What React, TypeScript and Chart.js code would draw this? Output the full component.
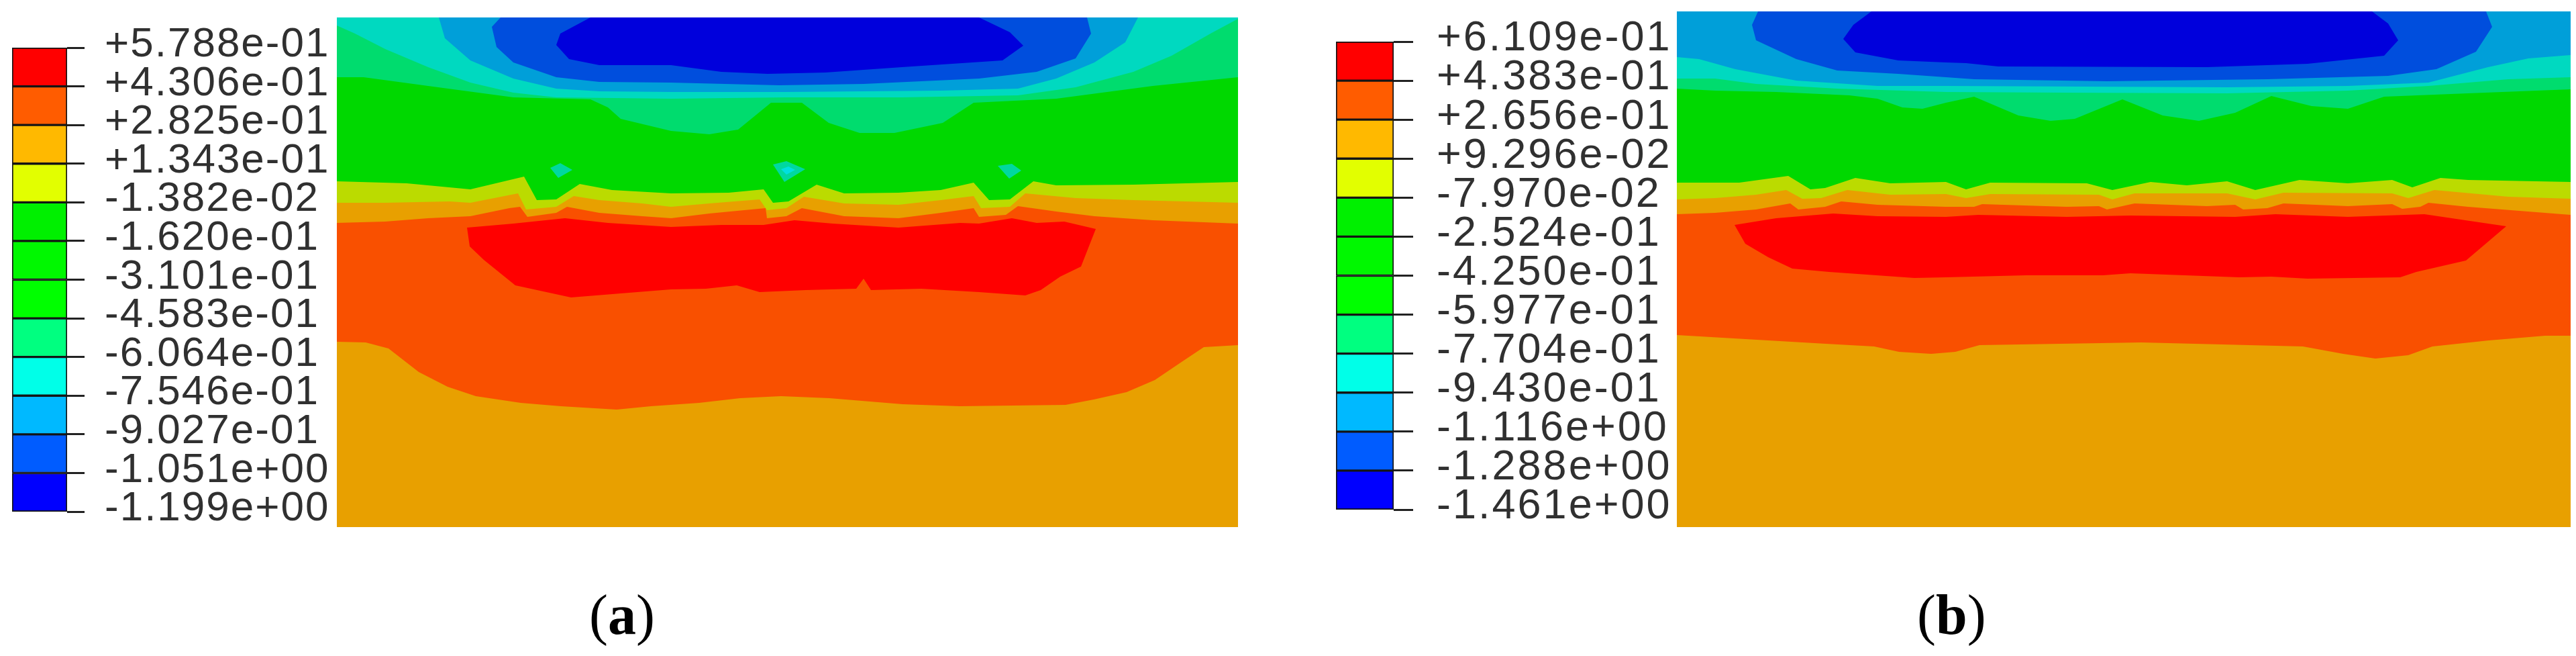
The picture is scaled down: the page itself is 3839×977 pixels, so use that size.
import React, { useEffect, useRef } from "react";
import { Chart, registerables } from "chart.js";

Chart.register(...registerables);

type P = [number, number];

// ---- legend levels and tick labels ----
const levelsA = [0.5788, 0.4306, 0.2825, 0.1343, -0.01382, -0.162, -0.3101, -0.4583, -0.6064, -0.7546, -0.9027, -1.051, -1.199];
const labelsA = ["+5.788e-01", "+4.306e-01", "+2.825e-01", "+1.343e-01", "-1.382e-02", "-1.620e-01", "-3.101e-01", "-4.583e-01", "-6.064e-01", "-7.546e-01", "-9.027e-01", "-1.051e+00", "-1.199e+00"];
const levelsB = [0.6109, 0.4383, 0.2656, 0.09296, -0.0797, -0.2524, -0.425, -0.5977, -0.7704, -0.943, -1.116, -1.288, -1.461];
const labelsB = ["+6.109e-01", "+4.383e-01", "+2.656e-01", "+9.296e-02", "-7.970e-02", "-2.524e-01", "-4.250e-01", "-5.977e-01", "-7.704e-01", "-9.430e-01", "-1.116e+00", "-1.288e+00", "-1.461e+00"];
const legendColors = ["#ff0000", "#ff5c00", "#ffb900", "#e2ff00", "#00f000", "#00f800", "#00ff00", "#00ff80", "#00ffe8", "#00b9ff", "#005cff", "#0000ff"];

// ---- contour colours ----
const cGold = "#e8a000";
const cOrange = "#f95000";
const cRed = "#ff0000";
const cYellow = "#bbdb00";
const cGreen = "#00d800";
const cSpring = "#00dc6e";
const cCyan = "#00d9c0";
const cSky = "#009fd9";
const cBlue = "#004edd";
const cDeep = "#0000dc";

// ---- panel (a) contour boundaries ----
const boundsA = { xMin: 502, xMax: 1845, yTop: 26, yBottom: 785 };
const aGoldLow: P[] = [[502,509],[545,510],[579,519],[624,554],[667,576],[709,590],[776,600],[836,605],[919,610],[970,605],[1042,600],[1103,593],[1164,590],[1236,593],[1345,602],[1430,605],[1588,603],[1630,595],[1679,584],[1721,566],[1758,541],[1794,517],[1845,514]];
const aRed: P[] = [[696,339],[765,333],[842,325],[906,332],[1000,338],[1075,335],[1138,335],[1184,328],[1241,333],[1339,339],[1431,332],[1459,333],[1508,325],[1545,332],[1586,330],[1633,341],[1611,397],[1580,412],[1551,432],[1528,440],[1459,435],[1373,430],[1298,432],[1287,415],[1276,430],[1201,432],[1132,435],[1098,425],[1052,430],[1000,431],[925,437],[851,443],[768,425],[721,387],[700,367]];
const aGoldBand: P[] = [[502,332],[574,330],[638,325],[701,322],[759,310],[775,308],[786,323],[829,317],[845,308],[893,317],[957,322],[1000,325],[1057,318],[1109,313],[1141,310],[1143,325],[1172,322],[1195,310],[1258,322],[1339,325],[1402,317],[1451,310],[1459,323],[1499,320],[1517,307],[1574,315],[1631,322],[1718,328],[1845,333]];
const aYellow: P[] = [[502,302],[574,302],[670,300],[701,302],[772,288],[784,312],[829,308],[855,292],[893,298],[957,303],[1000,308],[1057,303],[1132,297],[1143,313],[1172,310],[1198,293],[1258,303],[1339,305],[1402,298],[1451,292],[1462,310],[1505,308],[1528,288],[1603,295],[1689,298],[1845,302]];
const aGreen: P[] = [[502,270],[606,273],[701,282],[781,263],[800,298],[829,297],[864,274],[912,283],[1000,288],[1086,287],[1138,282],[1152,302],[1175,300],[1217,275],[1258,288],[1339,287],[1402,283],[1451,272],[1474,298],[1505,297],[1540,270],[1574,276],[1689,275],[1845,271]];
const aSpring: P[] = [[502,115],[542,115],[638,128],[765,145],[880,148],[906,160],[925,177],[1000,195],[1057,200],[1100,193],[1149,153],[1195,153],[1235,183],[1281,198],[1333,198],[1405,183],[1451,153],[1574,147],[1718,128],[1845,115]];
const aCyan: P[] = [[502,38],[529,50],[574,73],[638,100],[701,123],[765,138],[829,145],[1000,147],[1172,145],[1344,145],[1517,142],[1603,130],[1689,107],[1746,83],[1804,50],[1845,28]];
const aSky: P[] = [[654,26],[663,57],[701,90],[765,117],[829,132],[893,136],[1000,137],[1172,137],[1402,135],[1517,132],[1574,117],[1631,93],[1677,63],[1696,26]];
const aBlue: P[] = [[746,26],[733,40],[740,70],[765,93],[829,115],[893,122],[1000,123],[1161,127],[1287,125],[1459,117],[1545,107],[1603,87],[1626,50],[1620,26]];
const aDeep: P[] = [[880,26],[835,50],[829,67],[848,88],[893,97],[1000,97],[1075,107],[1144,110],[1230,108],[1344,100],[1494,90],[1525,68],[1505,48],[1459,26]];
const aSpotLeft: P[] = [[820,250],[835,243],[853,253],[832,265]];
const aSpotMid: P[] = [[1152,245],[1172,240],[1200,252],[1169,271]];
const aSpotMidCore: P[] = [[1164,252],[1175,248],[1185,253],[1172,260]];
const aSpotRight: P[] = [[1487,247],[1508,244],[1522,254],[1504,266]];

// ---- panel (b) contour boundaries ----
const boundsB = { xMin: 2499, xMax: 3831, yTop: 17, yBottom: 785 };
const bGoldLow: P[] = [[2499,499],[2601,505],[2721,512],[2793,516],[2830,524],[2878,527],[2914,524],[2950,514],[3191,510],[3432,516],[3492,527],[3540,534],[3589,529],[3625,516],[3709,507],[3793,500],[3831,500]];
const bRed: P[] = [[2585,335],[2647,325],[2732,318],[2798,322],[2900,323],[2948,320],[3080,323],[3175,321],[3331,323],[3391,319],[3499,323],[3613,319],[3735,337],[3675,388],[3601,405],[3577,413],[3439,415],[3385,412],[3337,413],[3175,407],[3134,410],[3020,410],[2900,413],[2853,414],[2726,405],[2671,400],[2635,383],[2601,363]];
const bGoldBand: P[] = [[2499,319],[2556,317],[2617,312],[2668,303],[2680,312],[2720,308],[2744,300],[2798,305],[2900,308],[2942,308],[2954,304],[3080,308],[3128,307],[3140,312],[3181,303],[3289,307],[3331,305],[3343,312],[3379,310],[3403,303],[3499,307],[3565,304],[3580,311],[3607,308],[3619,302],[3678,308],[3831,320]];
const bYellow: P[] = [[2499,297],[2556,295],[2617,290],[2662,283],[2686,296],[2714,295],[2753,283],[2817,290],[2900,289],[2930,295],[2966,289],[3128,290],[3148,297],[3181,288],[3319,288],[3361,297],[3403,287],[3565,288],[3589,295],[3628,283],[3738,293],[3831,296]];
const bGreen: P[] = [[2499,272],[2592,272],[2665,262],[2698,282],[2720,280],[2765,265],[2817,273],[2900,271],[2930,282],[2966,272],[3110,273],[3148,283],[3205,271],[3259,276],[3319,270],[3361,283],[3427,268],[3499,273],[3565,268],[3595,279],[3637,265],[3678,268],[3831,271]];
const bSpring: P[] = [[2499,132],[2556,135],[2647,137],[2756,142],[2798,147],[2835,160],[2865,162],[2900,153],[2942,144],[3008,172],[3056,180],[3092,177],[3163,148],[3223,172],[3277,180],[3331,168],[3385,143],[3445,158],[3499,162],[3553,144],[3678,139],[3831,133]];
const bCyan: P[] = [[2499,117],[2556,117],[2617,125],[2738,132],[2900,137],[3080,138],[3319,139],[3499,135],[3619,128],[3738,118],[3831,115]];
const bSky: P[] = [[2499,85],[2532,88],[2586,103],[2677,120],[2798,128],[2900,128],[3319,130],[3499,128],[3619,123],[3708,100],[3768,87],[3831,82]];
const bBlue: P[] = [[2620,17],[2611,37],[2617,60],[2677,88],[2738,105],[2829,110],[2900,115],[2942,118],[3140,121],[3379,118],[3559,113],[3631,103],[3690,77],[3714,40],[3705,17]];
const bDeep: P[] = [[2789,17],[2762,37],[2747,58],[2765,78],[2829,90],[2900,93],[2930,94],[2978,99],[3289,100],[3439,95],[3553,83],[3574,60],[3559,35],[3535,17]];

type Bounds = typeof boundsA;
type Layer = { pts: P[]; color: string; above?: boolean };

const layersA: Layer[] = [
  { pts: aGoldLow, color: cOrange, above: true },
  { pts: aRed, color: cRed },
  { pts: aGoldBand, color: cGold, above: true },
  { pts: aYellow, color: cYellow, above: true },
  { pts: aGreen, color: cGreen, above: true },
  { pts: aSpring, color: cSpring, above: true },
  { pts: aCyan, color: cCyan, above: true },
  { pts: aSky, color: cSky },
  { pts: aBlue, color: cBlue },
  { pts: aDeep, color: cDeep },
  { pts: aSpotLeft, color: "#00d8a0" },
  { pts: aSpotMid, color: "#00d8a0" },
  { pts: aSpotMidCore, color: "#00e0e0" },
  { pts: aSpotRight, color: "#00d8a0" },
];
const layersB: Layer[] = [
  { pts: bGoldLow, color: cOrange, above: true },
  { pts: bRed, color: cRed },
  { pts: bGoldBand, color: cGold, above: true },
  { pts: bYellow, color: cYellow, above: true },
  { pts: bGreen, color: cGreen, above: true },
  { pts: bSpring, color: cSpring, above: true },
  { pts: bCyan, color: cCyan, above: true },
  { pts: bSky, color: cSky, above: true },
  { pts: bBlue, color: cBlue },
  { pts: bDeep, color: cDeep },
];

function ContourPanel({ bounds, layers }: { bounds: Bounds; layers: Layer[] }) {
  const ref = useRef<HTMLCanvasElement>(null);
  useEffect(() => {
    const { xMin, xMax, yTop, yBottom } = bounds;
    const toPts = (pts: P[]) => pts.map(([x, y]) => ({ x, y }));
    const base = { pts: [[xMin, yTop], [xMax, yTop], [xMax, yBottom], [xMin, yBottom]] as P[], color: cGold };
    const all = [base, ...layers];
    const chart = new Chart(ref.current!, {
      type: "scatter",
      data: {
        datasets: all.map((l: Layer, i: number) => ({
          data: l.above
            ? [{ x: xMin, y: yTop }, ...toPts(l.pts), { x: xMax, y: yTop }]
            : toPts(l.pts),
          showLine: true,
          fill: "shape",
          backgroundColor: l.color,
          borderWidth: 0,
          pointRadius: 0,
          pointHoverRadius: 0,
          order: -i,
        })),
      },
      options: {
        animation: false,
        responsive: false,
        events: [],
        layout: { padding: 0, autoPadding: false },
        plugins: { legend: { display: false }, tooltip: { enabled: false } },
        scales: {
          x: { type: "linear", display: false, min: xMin, max: xMax },
          y: { type: "linear", display: false, min: yTop, max: yBottom, reverse: true },
        },
      },
    } as any);
    return () => chart.destroy();
  }, []);
  return (
    <canvas
      ref={ref}
      width={bounds.xMax - bounds.xMin}
      height={bounds.yBottom - bounds.yTop}
      style={{ position: "absolute", left: bounds.xMin, top: bounds.yTop }}
    />
  );
}

function LegendBar({
  levels, labels, left, top, barWidth, tickY0, tickY1, fontSize, spacing, tickLen, labelGap,
}: {
  levels: number[]; labels: string[]; left: number; top: number; barWidth: number;
  tickY0: number; tickY1: number; fontSize: number; spacing: number; tickLen: number; labelGap: number;
}) {
  const ref = useRef<HTMLCanvasElement>(null);
  const W = 500;
  const H = 800;
  useEffect(() => {
    const chart = new Chart(ref.current!, {
      type: "bar",
      data: {
        labels: [""],
        datasets: legendColors.map((c, i) => ({
          data: [[levels[i + 1], levels[i]]],
          backgroundColor: c,
          borderColor: "#141414",
          borderWidth: 2,
          borderSkipped: false,
          barPercentage: 1,
          categoryPercentage: 1,
          grouped: false,
        })),
      },
      plugins: [
        {
          id: "labelSpacing",
          beforeDraw: (c: any) => {
            c.ctx.letterSpacing = spacing + "px";
          },
        },
      ],
      options: {
        animation: false,
        responsive: false,
        events: [],
        layout: {
          autoPadding: false,
          padding: { left: 0, top: tickY0 - top, bottom: top + H - tickY1, right: 0 },
        },
        plugins: { legend: { display: false }, tooltip: { enabled: false } },
        scales: {
          x: { display: false },
          y: {
            type: "linear",
            position: "right",
            min: levels[levels.length - 1],
            max: levels[0],
            afterBuildTicks: (s: any) => {
              s.ticks = levels.map((value) => ({ value }));
            },
            afterFit: (s: any) => {
              s.width = W - barWidth;
              s.paddingTop = 0;
              s.paddingBottom = 0;
              s._margins = { left: 0, right: 0, top: 0, bottom: 0 };
            },
            border: { display: false },
            grid: { drawOnChartArea: false, drawTicks: true, tickLength: tickLen, tickWidth: 3, tickColor: "#222" },
            ticks: {
              autoSkip: false,
              maxRotation: 0,
              padding: labelGap,
              labelOffset: -4,
              color: "#303030",
              font: { family: "'Liberation Sans'", size: fontSize },
              callback: (_v: any, i: number) => labels[i],
            },
          },
        },
      },
    } as any);
    return () => chart.destroy();
  }, []);
  return <canvas ref={ref} width={W} height={H} style={{ position: "absolute", left, top }} />;
}

const captionStyle: React.CSSProperties = {
  position: "absolute",
  fontFamily: "'Liberation Serif', serif",
  fontSize: 84,
  lineHeight: "100px",
  color: "#000",
  whiteSpace: "nowrap",
};

export default function App() {
  return (
    <>
      <LegendBar levels={levelsA} labels={labelsA} left={18} top={0} barWidth={82} tickY0={71} tickY1={762} fontSize={62} spacing={2} tickLen={26} labelGap={30} />
      <ContourPanel bounds={boundsA} layers={layersA} />
      <div style={{ ...captionStyle, left: 878, top: 866 }}>(<b>a</b>)</div>

      <LegendBar levels={levelsB} labels={labelsB} left={1991} top={0} barWidth={86} tickY0={62} tickY1={759} fontSize={63} spacing={3} tickLen={29} labelGap={35} />
      <ContourPanel bounds={boundsB} layers={layersB} />
      <div style={{ ...captionStyle, left: 2857, top: 866 }}>(<b>b</b>)</div>
    </>
  );
}
